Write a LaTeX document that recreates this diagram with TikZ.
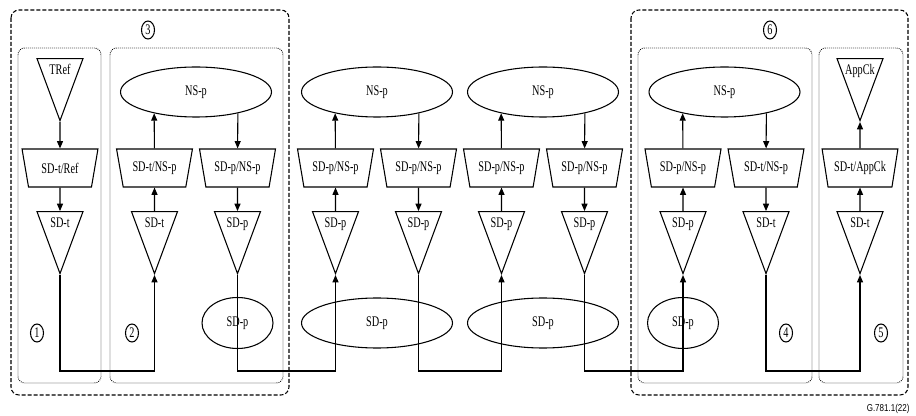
\documentclass[tikz,border=0pt]{standalone}
\usepackage{fontspec}
\setmainfont[FakeStretch=0.7]{Liberation Serif}
\newfontfamily\figsans[FakeStretch=0.8]{Liberation Sans}
\usetikzlibrary{arrows.meta, positioning}
\usetikzlibrary{shapes.geometric}

\begin{document}
\begin{tikzpicture}[x=0.75pt, y=-0.75pt, line width=0.8pt,
    font=\fontsize{11}{13}\selectfont,
    every node/.style={inner sep=0pt},
    tri/.style={draw, isosceles triangle, isosceles triangle stretches,
      shape border rotate=270, inner sep=0.5pt, anchor=apex,
      minimum width=34.5pt, minimum height=46.5pt,
      label={[anchor=north, inner sep=4.5pt]90:#1}},
    adapt/.style={draw, trapezium, trapezium left angle=70, trapezium right angle=70,
      trapezium stretches=true, shape border rotate=180,
      minimum width=57pt, minimum height=28.5pt},
    layer/.style={draw, ellipse, minimum width=113.25pt, minimum height=37.5pt},
    num/.style={draw, ellipse, minimum width=9.75pt, minimum height=13.5pt},
    link/.style={-{Triangle[length=5.5pt, width=4.5pt]}},
    groupbox/.style={dash pattern=on 3pt off 1.5pt, rounded corners=6pt},
    subbox/.style={dash pattern=on 0.6pt off 0.9pt, line width=0.7pt, rounded corners=5pt}]
    \useasboundingbox (0,0) rectangle (916,416);

    % frames
    \draw[groupbox] (11,10) rectangle (289,395);
    \draw[groupbox] (631,10) rectangle (908,395);
    \draw[subbox] (18,48) rectangle (101,383);
    \draw[subbox] (110,48) rectangle (283,383);
    \draw[subbox] (638,48) rectangle (812,383);
    \draw[subbox] (819,48) rectangle (903,383);

    \node[num] (n1) at (37,333) {1};
    \node[num] (n2) at (132,333) {2};
    \node[num] (n3) at (148,30) {3};
    \node[num] (n4) at (786,333) {4};
    \node[num] (n5) at (881,333) {5};
    \node[num] (n6) at (770,30) {6};

    % NS-p layer
    \node[layer] (ns1) at (196,92) {NS-p};
    \node[layer] (ns2) at (377,92) {NS-p};
    \node[layer] (ns3) at (543,92) {NS-p};
    \node[layer] (ns4) at (724.5,92) {NS-p};

    % reference and application clock (placed by apex)
    \node[tri=TRef] (tref) at (60,122) {};
    \node[tri=AppCk] (appck) at (860,122) {};

    % adaptation functions
    \node[adapt] (a1) at (60,168) {SD-t/Ref};
    \node[adapt] (a2) at (154.5,168) {SD-t/NS-p};
    \node[adapt] (a3) at (237.5,168) {SD-p/NS-p};
    \node[adapt] (a4) at (335.5,168) {SD-p/NS-p};
    \node[adapt] (a5) at (418.5,168) {SD-p/NS-p};
    \node[adapt] (a6) at (501.5,168) {SD-p/NS-p};
    \node[adapt] (a7) at (584.5,168) {SD-p/NS-p};
    \node[adapt] (a8) at (683,168) {SD-p/NS-p};
    \node[adapt] (a9) at (766,168) {SD-t/NS-p};
    \node[adapt] (a10) at (860,168) {SD-t/AppCk};

    % SD trail terminations
    \node[tri=SD-t] (t1) at (60,275) {};
    \node[tri=SD-t] (t2) at (154.5,275) {};
    \node[tri=SD-p] (t3) at (237.5,275) {};
    \node[tri=SD-p] (t4) at (335.5,275) {};
    \node[tri=SD-p] (t5) at (418.5,275) {};
    \node[tri=SD-p] (t6) at (501.5,275) {};
    \node[tri=SD-p] (t7) at (584.5,275) {};
    \node[tri=SD-p] (t8) at (683,275) {};
    \node[tri=SD-t] (t9) at (766,275) {};
    \node[tri=SD-t] (t10) at (860,275) {};

    % SD-p layer
    \node[layer, minimum width=53.25pt, minimum height=38.25pt] (s1) at (237.5,323) {SD-p};
    \node[layer] (s2) at (377,323) {SD-p};
    \node[layer] (s3) at (543,323) {SD-p};
    \node[layer, minimum width=53.25pt, minimum height=38.25pt] (s4) at (683,323) {SD-p};

    \coordinate (rail) at (0,371);

    \draw[link] (tref) -- (a1);
    \draw[link] (a1) -- (t1);
    \draw[link] (t2) -- (a2);
    \draw[link] (a3) -- (t3);
    \draw[link] (t4) -- (a4);
    \draw[link] (a5) -- (t5);
    \draw[link] (t6) -- (a6);
    \draw[link] (a7) -- (t7);
    \draw[link] (t8) -- (a8);
    \draw[link] (a9) -- (t9);
    \draw[link] (t10) -- (a10);
    \draw[link] (a10) -- (appck);

    \draw[link] (a2) -- (ns1.207);
    \draw[link] (ns1.333) -- (a3);
    \draw[link] (a4) -- (ns2.207);
    \draw[link] (ns2.333) -- (a5);
    \draw[link] (a6) -- (ns3.207);
    \draw[link] (ns3.333) -- (a7);
    \draw[link] (a8) -- (ns4.207);
    \draw[link] (ns4.333) -- (a9);

    \draw[link] (t1) -- (t1 |- rail) -| (t2);
    \draw[link] (t3) -- (t3 |- rail) -| (t4);
    \draw[link] (t5) -- (t5 |- rail) -| (t6);
    \draw[link] (t7) -- (t7 |- rail) -| (t8);
    \draw[link] (t9) -- (t9 |- rail) -| (t10);

    \node[anchor=east, font=\figsans\fontsize{7.5}{9}\selectfont] (fig) at (910,409) {G.781.1(22)};
\end{tikzpicture}
\end{document}
